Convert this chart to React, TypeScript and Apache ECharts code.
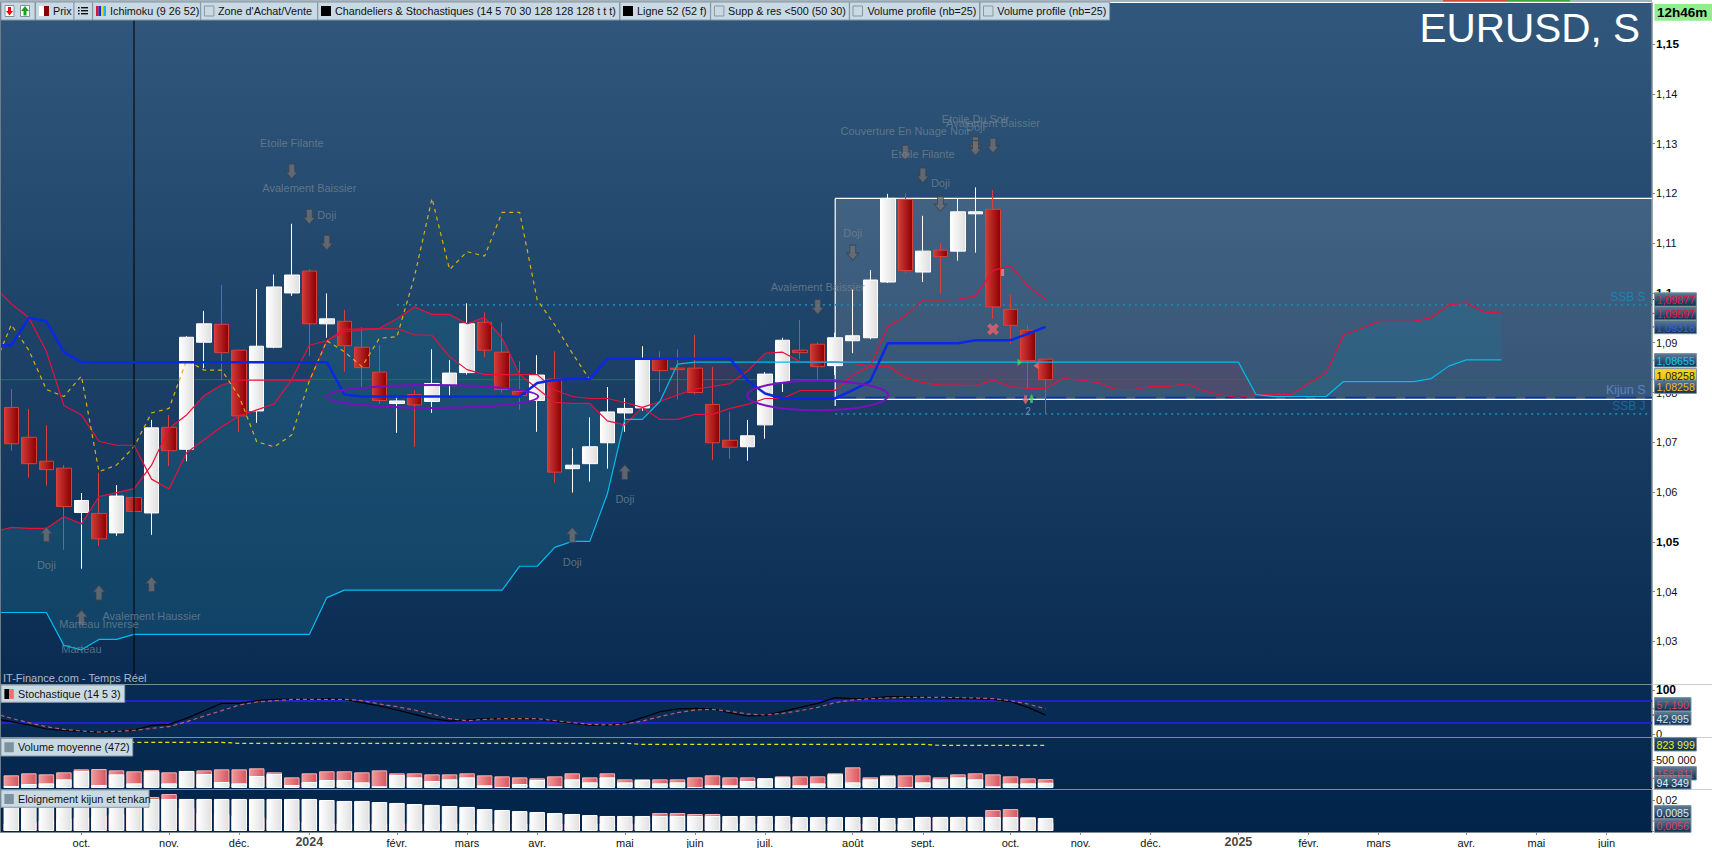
import React, { useEffect, useRef } from "react";
import * as echarts from "echarts";

// Weekly candles: [open, close, low, high]
const candles = [
[1.0770,1.0697,1.0683,1.0807],[1.0710,1.0657,1.0629,1.0767],[1.0662,1.0645,1.0613,1.0734],[1.0648,1.0571,1.0484,1.0654],
[1.0559,1.0583,1.0446,1.0598],[1.0557,1.0506,1.0492,1.0639],[1.0518,1.0592,1.0512,1.0614],[1.0589,1.0561,1.0561,1.0589],
[1.0558,1.0729,1.0514,1.0745],[1.0730,1.0683,1.0652,1.0755],[1.0686,1.0911,1.0662,1.0913],[1.0901,1.0938,1.0849,1.0964],
[1.0937,1.0880,1.0825,1.1016],[1.0885,1.0753,1.0721,1.0886],[1.0763,1.0893,1.0739,1.1008],[1.0891,1.1012,1.0889,1.1037],
[1.1000,1.1036,1.0994,1.1139],[1.1044,1.0938,1.0873,1.1048],[1.0938,1.0948,1.0910,1.0999],[1.0943,1.0894,1.0842,1.0966],
[1.0891,1.0850,1.0811,1.0931],[1.0841,1.0784,1.0777,1.0895],[1.0778,1.0783,1.0719,1.0790],[1.0796,1.0775,1.0691,1.0805],
[1.0782,1.0818,1.0759,1.0887],[1.0814,1.0839,1.0793,1.0865],[1.0840,1.0938,1.0836,1.0979],[1.0941,1.0885,1.0871,1.0961],
[1.0881,1.0806,1.0800,1.0941],[1.0802,1.0794,1.0765,1.0863],[1.0784,1.0835,1.0721,1.0875],[1.0827,1.0640,1.0619,1.0883],
[1.0647,1.0654,1.0599,1.0688],[1.0657,1.0691,1.0621,1.0750],[1.0699,1.0761,1.0647,1.0811],[1.0759,1.0768,1.0721,1.0789],
[1.0769,1.0867,1.0763,1.0893],[1.0867,1.0844,1.0801,1.0883],[1.0849,1.0846,1.0786,1.0887],[1.0849,1.0800,1.0796,1.0916],
[1.0776,1.0699,1.0664,1.0851],[1.0704,1.0690,1.0667,1.0761],[1.0691,1.0713,1.0663,1.0745],[1.0735,1.0837,1.0707,1.0841],
[1.0821,1.0905,1.0801,1.0910],[1.0885,1.0880,1.0867,1.0946],[1.0897,1.0852,1.0825,1.0901],[1.0854,1.0910,1.0835,1.0920],
[1.0904,1.0914,1.0879,1.1007],[1.0910,1.1026,1.0907,1.1046],[1.1022,1.1190,1.1020,1.1199],[1.1188,1.1045,1.1039,1.1200],
[1.1042,1.1084,1.1022,1.1155],[1.1086,1.1073,1.0998,1.1100],[1.1084,1.1163,1.1065,1.1189],[1.1159,1.1163,1.1081,1.1212],
[1.1168,1.0972,1.0948,1.1207],[1.0967,1.0935,1.0898,1.0996],[1.0925,1.0864,1.0808,1.0936],[1.0867,1.08258,1.0757,1.0867],
];

// Ichimoku lines; the first value of each sits one week before the first candle
const tenkan = [1.1013,1.0978,1.0950,1.0883,1.0774,1.0755,1.0702,1.0694,1.0694,1.0626,1.0606,1.0679,1.0705,1.0731,1.0753,1.0765,1.0777,1.0826,1.0895,1.0904,1.0927,1.0928,1.0928,1.0928,1.0916,1.0915,1.0872,1.0846,1.0836,1.0836,1.0836,1.0836,1.0805,1.0792,1.0788,1.0788,1.0780,1.0770,1.0746,1.0746,1.0756,1.0756,1.0768,1.0776,1.0788,1.0788,1.0804,1.0804,1.0804,1.0835,1.0853,1.0932,1.0954,1.0986,1.0986,1.0987,1.0994,1.1045,1.1055,1.1013,1.09877];
const kijun = [1.0895,1.0895,1.0950,1.0943,1.0881,1.0861,1.0861,1.0861,1.0861,1.0861,1.0861,1.0861,1.0861,1.0861,1.0861,1.0861,1.0861,1.0861,1.0861,1.0861,1.0796,1.0792,1.0792,1.0792,1.0792,1.0792,1.0792,1.0792,1.0792,1.0792,1.0792,1.0819,1.0825,1.0827,1.0827,1.0868,1.0868,1.0868,1.0868,1.0868,1.0868,1.0868,1.0868,1.0824,1.0798,1.0788,1.0788,1.0788,1.0788,1.0805,1.0823,1.0899,1.0899,1.0899,1.0899,1.0899,1.0905,1.0905,1.0905,1.0918,1.09318];
const chikou = [1.0852,1.0936,1.0885,1.0806,1.0792,1.0833,1.0641,1.0654,1.0691,1.0759,1.0768,1.0865,1.0845,1.0845,1.0792,1.0701,1.0691,1.0715,1.0823,1.0904,1.0882,1.0852,1.0909,1.0912,1.1033,1.1190,1.1047,1.1083,1.1074,1.1162,1.1162,1.0986,1.0936,1.0879,1.08258];
const ssa = [1.0520,1.0529,1.0527,1.0527,1.0551,1.0536,1.0591,1.0599,1.0607,1.0654,1.0728,1.0755,1.0794,1.0815,1.0825,1.0825,1.0825,1.0825,1.0823,1.0904,1.0922,1.0926,1.0929,1.0948,1.0972,1.0957,1.0957,1.0938,1.0951,1.0909,1.0836,1.0808,1.0780,1.0778,1.0778,1.0743,1.0735,1.0770,1.0782,1.0795,1.0807,1.0812,1.0818,1.0843,1.0879,1.0881,1.0862,1.0861,1.0861,1.0859,1.0853,1.0853,1.0830,1.0820,1.0815,1.0815,1.0814,1.0825,1.0812,1.0808,1.0808,1.0828,1.0825,1.0820,1.0806,1.0806,1.0812,1.0812,1.0818,1.0804,1.0795,1.0790,1.0796,1.0796,1.0796,1.0818,1.0839,1.0916,1.0928,1.0943,1.0943,1.0943,1.0950,1.0976,1.0980,1.0962,1.09597];
const ssb = [1.0358,1.0358,1.0358,1.0358,1.0292,1.0283,1.0304,1.0304,1.0314,1.0314,1.0314,1.0314,1.0314,1.0314,1.0314,1.0314,1.0314,1.0314,1.0314,1.0388,1.0403,1.0403,1.0403,1.0403,1.0403,1.0403,1.0403,1.0403,1.0403,1.0403,1.0451,1.0451,1.0489,1.0501,1.0501,1.0596,1.0746,1.0746,1.0782,1.0857,1.0861,1.0861,1.0861,1.0861,1.0861,1.0861,1.0861,1.0861,1.0861,1.0861,1.0861,1.0861,1.0861,1.0861,1.0861,1.0861,1.0861,1.0861,1.0861,1.0861,1.0861,1.0861,1.0861,1.0861,1.0861,1.0861,1.0861,1.0861,1.0861,1.0861,1.0861,1.0861,1.0796,1.0792,1.0792,1.0792,1.0792,1.0822,1.0822,1.0822,1.0822,1.0822,1.0828,1.0853,1.08655,1.08655,1.08655];

// Levels
const closeLevel = 1.08258;
const ssbSLevel = 1.0976;
const ssbJLevel = 1.0757;
const kijunSLevel = 1.0790;
const zoneTop = 1.1190;
const zoneBottom = 1.0786;
const zoneLeftEnd = 1.0773;
const zoneStart = 47;
const ssbSStart = 22;
const cursorIndex = 7;
// [week, price, half-width in weeks, half-height in price]
const ellipses = [[24.02,1.0792,6.04,0.00231],[46,1.0794,4.02,0.00297]];

// Pattern annotations: [week, price, text]
const patternTexts: [number, number, string][] = [
[16,1.1302,"Etoile Filante"],[17,1.1211,"Avalement Baissier"],[18,1.1157,"Doji"],[55,1.1349,"Etoile Du Soir"],
[56,1.1342,"Avalement Baissier"],[55,1.1334,"Doji"],[51,1.1326,"Couverture En Nuage Noir"],[52,1.1280,"Etoile Filante"],
[53,1.1221,"Doji"],[48,1.1121,"Doji"],[46,1.1011,"Avalement Baissier"],[2,1.0454,"Doji"],[5,1.0334,"Marteau Inverse"],
[4,1.0285,"Marteau"],[8,1.0352,"Avalement Haussier"],[32,1.0460,"Doji"],[35,1.0587,"Doji"],
];
const downArrows = [[16,1.1244],[17,1.1153],[18,1.1101],[55,1.1299],[55,1.1291],[56,1.1296],[51,1.1282],[52,1.1236],[53,1.1179],[48,1.1081],[46,1.0972]];
const upArrows = [[2,1.0515],[5,1.0398],[4,1.0348],[8,1.0415],[32,1.0514],[35,1.0640]];
// Signals near the last candles
const crossSignals = [[56,1.0927]];
const pinkBlock = [[56.55,1.1041]];
const greenRight = [[57.54,1.0861]];
const pinkLeft = [[58.45,1.0854]];
const pinkDown = [[57.86,1.0785]];
const greenUp = [[58.2,1.0788]];
const countLabel = [[58,1.0762,"2"]];

// Stochastic, first value one week before the first candle
const stochK = [35.6,28.0,20.4,11.4,8.3,6.0,4.5,5.3,9.1,19.7,22.0,35.6,53.0,69.7,69.7,75.8,78.8,78.8,78.8,80.3,78.8,71.2,63.6,54.5,44.7,34.8,29.5,31.8,34.8,34.8,34.8,34.1,28.8,24.2,20.4,20.4,24.2,37.1,50.7,56.8,58.3,56.8,48.5,40.9,42.4,50.7,60.6,69.7,82.6,80.3,80.3,84.8,84.8,84.1,82.6,81.0,80.3,78.8,73.5,60.6,42.995];
const stochD = [47.0,35.6,25.7,16.6,10.6,6.8,4.5,6.0,8.3,12.9,16.6,28.0,40.9,53.0,65.9,72.7,75.8,78.8,78.8,78.8,78.8,75.8,68.2,62.1,54.5,45.4,34.8,30.3,33.3,34.8,34.8,34.8,30.3,25.7,22.0,20.4,22.7,29.5,39.4,48.5,54.5,56.0,51.5,45.4,43.2,47.0,53.0,60.6,71.2,77.3,80.3,81.8,83.3,83.3,83.3,82.6,81.8,80.3,75.8,68.2,57.19];
const stochLevels = [75, 25];

// Volume in thousands
const volumeTotal = [226,262,244,280,333,339,315,298,321,280,304,315,333,333,351,280,190,262,298,298,280,315,262,262,244,244,262,226,208,190,173,208,262,190,262,155,155,155,155,190,226,190,190,173,208,208,208,262,369,190,226,226,226,190,244,262,244,208,173,158.811];
const volumePart = [36,71,83,155,304,54,244,83,298,83,304,250,107,83,214,250,54,107,143,143,101,30,232,190,125,155,190,48,18,71,143,30,155,101,190,101,143,83,101,18,48,48,125,173,190,48,83,244,101,155,208,18,101,155,190,155,30,83,83,94.349];
const volumeAverage = [815,815,815,815,815,815,815,815,815,815,815,815,815,798,798,798,798,798,798,798,798,798,798,798,798,798,798,798,798,798,798,798,798,798,798,798,780,780,780,780,780,780,780,780,780,780,780,780,780,780,780,780,780,762,762,762,762,762,762,762];

// Distance kijun / tenkan
const gapWhite = [0.0209,0.0209,0.0209,0.0209,0.0209,0.0209,0.0209,0.0209,0.0209,0.0209,0.0209,0.0209,0.0209,0.0209,0.0209,0.0209,0.0209,0.0209,0.0202,0.0196,0.0196,0.0189,0.0183,0.0176,0.0170,0.0163,0.0157,0.0143,0.0137,0.0130,0.0124,0.0117,0.0111,0.0104,0.0098,0.0098,0.0098,0.0098,0.0098,0.0098,0.0098,0.0098,0.0098,0.0098,0.0098,0.0091,0.0091,0.0091,0.0091,0.0091,0.0085,0.0085,0.0091,0.0091,0.0091,0.0091,0.0091,0.0091,0.0085,0.0085];
const gapPink = [0.0050,0.0060,0.0070,0.0080,0.0090,0.0100,0.0110,0.0150,0.0222,0.0241,0.0150,0.0120,0.0110,0.0100,0.0090,0.0080,0.0070,0.0060,0.0050,0.0050,0.0050,0.0050,0.0050,0.0050,0.0050,0.0050,0.0050,0.0050,0.0050,0.0050,0.0050,0.0050,0.0050,0.0050,0.0050,0.0050,0.0050,0.0117,0.0117,0.0111,0.0111,0.0050,0.0050,0.0050,0.0050,0.0050,0.0050,0.0050,0.0050,0.0050,0.0050,0.0050,0.0092,0.0092,0.0092,0.0092,0.0137,0.0143,0.0091,0.0056];

// X axis labels
const monthIndex = [4,9,13,17,22,26,30,35,39,43,48,52,57,61,65,70,74,78,83,87,91];
const monthNames = ["oct.","nov.","déc.","","févr.","mars","avr.","mai","juin","juil.","août","sept.","oct.","nov.","déc.","","févr.","mars","avr.","mai","juin"];
const yearLabels = [[17,0,"2024"],[70,0,"2025"]];
const priceTicks = [1.03,1.04,1.05,1.06,1.07,1.08,1.09,1.1,1.11,1.12,1.13,1.14,1.15];

const FONT = '"Liberation Sans", Arial, sans-serif';
const XMIN = -0.6446, XMAX = 93.594;
const W = 1652;
const pts = (arr: number[]) => arr.map((v, i) => [i - 1, v]);
const pts0 = (arr: number[]) => arr.map((v, i) => [i, v]);
const lg = (c0: string, c1: string, horizontal = true) =>
  new echarts.graphic.LinearGradient(0, 0, horizontal ? 1 : 0, horizontal ? 0 : 1, [{ offset: 0, color: c0 }, { offset: 1, color: c1 }]);

function buildGraphic() {
  const els: any[] = [];
  const rect = (x: number, y: number, w: number, h: number, fill: any, stroke?: string) =>
    els.push({ type: "rect", z: 100, silent: true, shape: { x, y, width: w, height: h }, style: { fill, stroke, lineWidth: stroke ? 1 : 0 } });
  const text = (x: number, y: number, t: string, fill: string, font: string, align = "left") =>
    els.push({ type: "text", z: 101, silent: true, x, y, style: { text: t, fill, font, textAlign: align, textVerticalAlign: "middle" } });
  const F11 = `10.8px ${FONT}`;

  // gaps between panels and left edge
  rect(0, 787.9, W, 2.2, "#04274e");
  rect(0, 830.9, W, 1.2, "#02244a");
  rect(0, 0, 1, 832, "#6a7c88");

  // top strip and toolbar
  rect(0, 0, 1652, 2, "#a8b4bc");
  rect(1443, 0, 64, 1.5, "#d84a3a");
  rect(1507, 0, 63, 1.5, "#3aa83a");
  const TB = "#c9dae4", TBB = "#8798a4";
  const tabs: [number, number][] = [[1,35],[35.6,74],[74,92.4],[92.7,200.4],[200.7,317.5],[317.8,619.5],[620,710.4],[710.7,849.3],[849.6,979.5],[980,1109.6]];
  tabs.forEach(([a, b]) => rect(a, 2, b - a, 18, TB, TBB));
  // doc icons
  rect(5, 5.5, 9, 11, "#ffffff", "#8090a0");
  els.push({ type: "polygon", z: 101, silent: true, shape: { points: [[6,11],[13,11],[9.5,15.5]] }, style: { fill: "#e01010" } });
  rect(8, 7, 3, 4.5, "#e01010");
  rect(20.5, 5.5, 9, 11, "#ffffff", "#8090a0");
  els.push({ type: "polygon", z: 101, silent: true, shape: { points: [[21,11],[29,11],[25,6]] }, style: { fill: "#18a018" } });
  rect(23.5, 11, 3, 4.5, "#18a018");
  // swatches
  rect(39, 6, 5, 10, "#ffffff"); rect(44, 6, 5, 10, "#8b0000");
  [7, 10, 13].forEach((y) => { rect(78, y, 1.6, 1.6, "#111"); rect(81, y, 7, 1.4, "#111"); });
  rect(96, 6, 2.5, 10, "#e01030"); rect(98.5, 6, 2.5, 10, "#1030e0"); rect(101, 6, 2.5, 10, "#f0d010"); rect(103.5, 6, 2.5, 10, "#10b8f0");
  [204.4, 714.4, 853, 983.5].forEach((x) => rect(x, 6, 9.5, 10, "none", "#8a97a0"));
  rect(321, 6, 10, 10, "#000"); rect(623, 6, 10, 10, "#000");
  text(53, 10.5, "Prix", "#111", F11);
  text(110, 10.5, "Ichimoku (9 26 52)", "#111", F11);
  text(218, 10.5, "Zone d'Achat/Vente", "#111", F11);
  text(335, 10.5, "Chandeliers & Stochastiques (14 5 70 30 128 128 128 t t t)", "#111", F11);
  text(637, 10.5, "Ligne 52 (52 f)", "#111", F11);
  text(728, 10.5, "Supp & res <500 (50 30)", "#111", F11);
  text(867.5, 10.5, "Volume profile (nb=25)", "#111", F11);
  text(997.3, 10.5, "Volume profile (nb=25)", "#111", F11);

  // title
  text(1640, 28, "EURUSD, S", "#ffffff", `40.5px ${FONT}`, "right");
  rect(1654.5, 4, 57.5, 16.7, "#90ee90");
  text(1657, 12, "12h46m", "#000", `bold 13.5px ${FONT}`);

  // right side tags
  text(1645.5, 296.5, "SSB S", "#1f82ae", `12px ${FONT}`, "right");
  text(1645.5, 389.5, "Kijun S", "#5a82c4", `12.5px ${FONT}`, "right");
  text(1645.5, 406, "SSB J", "#1a6a96", `12px ${FONT}`, "right");
  text(3, 678, "IT-Finance.com - Temps Réel", "#aeb8c2", `11px ${FONT}`);

  // panel separators
  [684.5, 737.5, 789.5].forEach((y) => {
    rect(0, y - 0.5, W, 1, "#7c8c96");
    rect(W, y - 0.5, 60, 1, "#c8ced2");
  });

  // panel legends
  const legend = (x2: number, y1: number, y2: number, t: string, swatch: string[]) => {
    rect(1, y1, x2 - 1, y2 - y1, TB, TBB);
    if (swatch.length === 2) { rect(4.4, y1 + 4, 4.7, 10, swatch[0]); rect(9.1, y1 + 4, 4.7, 10, swatch[1]); }
    else rect(4.4, y1 + 4, 9.4, 10, swatch[0]);
    text(18, (y1 + y2) / 2, t, "#111", F11);
  };
  legend(124.7, 685, 702.3, "Stochastique (14 5 3)", ["#000", "#f07070"]);
  legend(132.7, 738.3, 756, "Volume moyenne (472)", ["#7d929f"]);
  legend(149, 790, 807.3, "Eloignement kijun et tenkan", ["#7d929f"]);

  // value tags
  const tag = (x2: number, cy: number, t: string, color: string, bg?: any, tick?: string, tickY?: number) => {
    if (tick) rect(W + 0.5, (tickY ?? cy) - 0.5, 3, 1, tick);
    rect(1654.5, cy - 6.7, x2 - 1654.5, 13.4, bg ?? lg("#5d7d95", "#0c2d52", false), "#7d919e");
    text(1656.5, cy + 0.5, t, color, `10.6px ${FONT}`);
  };
  tag(1696.4, 299.5, "1,09877", "#e8123c", undefined, "#e8123c");
  tag(1696.4, 313.3, "1,09597", "#e8123c", undefined, "#e8123c");
  tag(1696.4, 327, "1,09318", "#3a60e0", undefined, "#2040e0");
  tag(1696.4, 360.3, "1,08655", "#19c3ef", undefined, "#19c3ef");
  tag(1696.4, 375.3, "1,08258", "#222", lg("#f6d820", "#f0c010", false), "#f0c010", 379.3);
  tag(1696.4, 386.7, "1,08258", "#e8c018");
  tag(1691, 704.3, "57,190", "#d04a58", undefined, "#d04a58", 708.8);
  tag(1691, 718.3, "42,995", "#cfe2ee", undefined, "#222", 715);
  tag(1696.4, 744.3, "823 999", "#e8f020", lg("#2e5070", "#0c2d52", false), "#e8f020");
  tag(1696.4, 773.3, "158 811", "#d04a58", undefined, "#d04a58", 778.3);
  tag(1691, 782.3, "94 349", "#dfeaf2");
  tag(1691, 812.3, "0,0085", "#dfeaf2");
  tag(1691, 825.6, "0,0056", "#d04a58", undefined, "#d04a58", 821);
  return els;
}

function buildOption() {
  const grids = [
    { top: 3, height: 681, bg: lg("#31587c", "#092b52", false) },
    { top: 685, height: 52, bg: "#082b53" },
    { top: 738, height: 50, bg: lg("#072a52", "#04274e", false) },
    { top: 790, height: 41, bg: lg("#03264d", "#02244a", false) },
  ];
  const AXC = "#7c8c96";
  const xAxes = grids.map((_, i) => {
    const last = i === 3;
    return {
      type: "value", gridIndex: i, min: XMIN, max: XMAX, splitLine: { show: false },
      offset: last ? 1 : 0,
      axisLine: { show: last, onZero: false, lineStyle: { color: AXC } },
      axisTick: { show: last, length: 3, customValues: monthIndex, lineStyle: { color: AXC } },
      axisLabel: {
        show: last, customValues: monthIndex, margin: 5, color: "#111", fontSize: 11, fontFamily: FONT, hideOverlap: false,
        formatter: (v: number) => monthNames[monthIndex.indexOf(Math.round(v))] ?? "",
      },
    };
  });
  const yBase = { type: "value", position: "right", splitLine: { show: false } };
  const yAxisLine = { show: true, onZero: false, lineStyle: { color: AXC, width: 1.5 } };
  const ytick = { length: 3, lineStyle: { color: AXC } };
  const yAxes = [
    {
      ...yBase, gridIndex: 0, min: 1.02144, max: 1.15825, axisLine: yAxisLine,
      axisTick: { ...ytick, customValues: priceTicks },
      axisLabel: {
        customValues: priceTicks, margin: 4, color: "#111", fontSize: 11, fontFamily: FONT,
        formatter: (v: number) => {
          const s = String(Math.round(v * 100) / 100).replace(".", ",");
          return s === "1,05" || s === "1,1" || s === "1,15" ? `{b|${s}}` : s;
        },
        rich: { b: { fontWeight: "bold", fontSize: 11.8, fontFamily: FONT, color: "#000" } },
      },
    },
    {
      ...yBase, gridIndex: 1, min: -6.8, max: 111.4, axisLine: yAxisLine,
      axisTick: { ...ytick, customValues: [0, 100] },
      axisLabel: {
        customValues: [0, 100], margin: 4, color: "#111", fontSize: 11, fontFamily: FONT,
        formatter: (v: number) => (v === 100 ? "{b|100}" : String(v)),
        rich: { b: { fontWeight: "bold", fontSize: 12, fontFamily: FONT, color: "#000" } },
      },
    },
    {
      ...yBase, gridIndex: 2, min: 0, max: 892.8, axisLine: yAxisLine,
      axisTick: { ...ytick, customValues: [500] },
      axisLabel: { customValues: [500], margin: 4, color: "#111", fontSize: 11, fontFamily: FONT, formatter: () => "500 000" },
    },
    {
      ...yBase, gridIndex: 3, min: 0, max: 0.02674, axisLine: yAxisLine,
      axisTick: { ...ytick, customValues: [0, 0.02] },
      axisLabel: { customValues: [0.02], margin: 4, color: "#111", fontSize: 11, fontFamily: FONT, formatter: () => "0,02" },
    },
  ];

  const line = (name: string, data: number[][], color: string, width: number, z: number, extra: any = {}) => ({
    name, type: "line", xAxisIndex: 0, yAxisIndex: 0, data, z, silent: true, showSymbol: false, symbol: "none", clip: true,
    lineStyle: { color, width, type: "solid", ...extra }, emphasis: { disabled: true },
  });
  const sub = (s: any, i: number) => ({ ...s, xAxisIndex: i, yAxisIndex: i });

  const cloud = {
    type: "custom", xAxisIndex: 0, yAxisIndex: 0, z: 1, clip: true, silent: true,
    data: ssa.map((v, i) => [i - 1, v, ssb[i]]),
    encode: { x: 0, y: [1, 2] },
    renderItem: (params: any, api: any) => {
      if (params.dataIndex !== 0) return { type: "group", children: [] };
      const fillUp = "rgba(30,115,145,0.3)", fillDown = "rgba(150,40,70,0.2)";
      const children: any[] = [];
      let top: number[][] = [[-1, ssa[0]]], bottom: number[][] = [[-1, ssb[0]]];
      let up = ssa[0] >= ssb[0];
      const flush = () => {
        const p = top.concat(bottom.slice().reverse()).map((q) => api.coord(q));
        children.push({ type: "polygon", shape: { points: p }, style: { fill: up ? fillUp : fillDown } });
      };
      for (let i = 0; i < ssa.length - 1; i++) {
        const da = ssa[i] - ssb[i], db = ssa[i + 1] - ssb[i + 1];
        if (da * db < 0) {
          const t = da / (da - db);
          const m = [i - 1 + t, ssa[i] + t * (ssa[i + 1] - ssa[i])];
          top.push(m);
          flush();
          top = [m]; bottom = [m]; up = db > 0;
        } else if (da === 0 && db !== 0 && (db > 0) !== up) {
          const m = [i - 1, ssa[i]];
          flush();
          top = [m]; bottom = [m]; up = db > 0;
        }
        top.push([i, ssa[i + 1]]);
        bottom.push([i, ssb[i + 1]]);
      }
      flush();
      return { type: "group", children };
    },
  };

  const zone = {
    type: "custom", xAxisIndex: 0, yAxisIndex: 0, z: 1, clip: true, silent: true,
    data: [[zoneStart, zoneTop, zoneBottom]], encode: { x: 0, y: [1, 2] },
    renderItem: (_: any, api: any) => {
      const a = api.coord([zoneStart, zoneTop]), b = api.coord([XMAX, zoneBottom]), c = api.coord([zoneStart, zoneLeftEnd]);
      const ls = { stroke: "#ffffff", lineWidth: 1.2 };
      return { type: "group", children: [
        { type: "rect", shape: { x: a[0], y: a[1], width: b[0] - a[0], height: b[1] - a[1] }, style: { fill: "rgba(255,255,255,0.13)" } },
        { type: "line", shape: { x1: a[0], y1: a[1], x2: b[0], y2: a[1] }, style: ls },
        { type: "line", shape: { x1: a[0], y1: b[1], x2: b[0], y2: b[1] }, style: ls },
        { type: "line", shape: { x1: a[0], y1: a[1], x2: a[0], y2: c[1] }, style: ls },
      ] };
    },
  };

  const ellipseSeries = {
    type: "custom", xAxisIndex: 0, yAxisIndex: 0, z: 6, silent: true,
    data: ellipses, encode: { x: 0, y: 1 },
    renderItem: (params: any, api: any) => {
      const e = ellipses[params.dataIndex];
      const c = api.coord([e[0], e[1]]);
      const s = api.size([e[2], e[3]]);
      return { type: "ellipse", shape: { cx: c[0], cy: c[1], rx: s[0], ry: s[1] }, style: { fill: "none", stroke: "#7a10c0", lineWidth: 2 } };
    },
  };

  const candle = {
    type: "candlestick", xAxisIndex: 0, yAxisIndex: 0, z: 3, silent: true, barWidth: 15, clip: true,
    data: candles.map((c, i) => [i, ...c]),
    encode: { x: 0, y: [1, 2, 3, 4] },
    itemStyle: {
      color: lg("#ffffff", "#dedede"), borderColor: "#ffffff",
      color0: lg("#d23a38", "#8c0000"), borderColor0: "#d8403c", borderWidth: 1,
    },
  };

  const arrowStyle = { color: "#6e7175", borderColor: "#3a424c", borderWidth: 1 };
  const scatter = (data: any[], symbol: string, size: any, style: any, z = 7) => ({
    type: "scatter", xAxisIndex: 0, yAxisIndex: 0, data, symbol, symbolSize: size, itemStyle: style, z, silent: true, clip: true,
  });
  const labels = (data: any[], color: string, fontSize: number) => ({
    type: "scatter", xAxisIndex: 0, yAxisIndex: 0, data, symbolSize: 0, z: 7, silent: true,
    label: { show: true, position: "inside", formatter: (p: any) => p.data[2], color, fontSize, fontFamily: FONT },
    labelLayout: { hideOverlap: false },
  });

  const bar = (data: number[], style: any, i: number, z = 2) => ({
    type: "bar", xAxisIndex: i, yAxisIndex: i, data: pts0(data), barWidth: 15.5, barGap: "-100%", z, silent: true, itemStyle: style,
  });

  const series: any[] = [
    zone,
    cloud,
    line("close", [[XMIN, closeLevel], [XMAX, closeLevel]], "#2f6a60", 1, 2),
    line("SSB S", [[ssbSStart, ssbSLevel], [XMAX, ssbSLevel]], "#1d86b0", 1.6, 2, { type: [2, 4] }),
    line("SSB J", [[zoneStart, ssbJLevel], [XMAX, ssbJLevel]], "#1d86b0", 1.6, 2, { type: [2, 4] }),
    line("Kijun S", [[zoneStart, kijunSLevel], [XMAX, kijunSLevel]], "#0a28d8", 1.6, 2, { type: [21, 9] }),
    candle,
    line("cursor", [[cursorIndex, 1.02144], [cursorIndex, 1.15825]], "#000000", 1, 5),
    line("SSA", pts(ssa), "#e8103c", 1.2, 4),
    line("SSB", pts(ssb), "#00bcf0", 1.2, 4),
    line("Tenkan", pts(tenkan), "#e8103c", 1.2, 4),
    line("Chikou", pts(chikou), "#d8b010", 1.2, 4, { type: [4, 4] }),
    line("Kijun", pts(kijun), "#0a28e8", 2.5, 5),
    ellipseSeries,
    scatter(downArrows, "path://M2.8 0H8.2V7.5H11L5.5 14L0 7.5H2.8Z", [12, 15], arrowStyle),
    scatter(upArrows, "path://M5.5 0L11 6.5H8.2V14H2.8V6.5H0Z", [12, 15], arrowStyle),
    labels(patternTexts, "#70808e", 11),
    scatter(crossSignals, "path://M3 0L6 3L9 0L12 3L9 6L12 9L9 12L6 9L3 12L0 9L3 6L0 3Z", [12, 12], { color: "#ee6068" }),
    scatter(pinkBlock, "rect", [3, 7], { color: "#f08888" }),
    scatter(greenRight, "path://M0 0L6 4L0 8Z", [5, 7], { color: "#3fdc5a" }),
    scatter(pinkLeft, "path://M6 0L0 4L6 8Z", [5, 7], { color: "#f06a70" }),
    scatter(pinkDown, "path://M2 0H5V3H7L3.5 8L0 3H2Z", [7, 9], { color: "#f06a70" }),
    scatter(greenUp, "path://M3.5 0L7 5H5V8H2V5H0Z", [6, 9], { color: "#3fdc5a" }),
    labels(countLabel, "#7aa6c0", 10),
    // stochastic
    sub(line("level70", [[XMIN, stochLevels[0]], [XMAX, stochLevels[0]]], "#2222d0", 2, 2), 1),
    sub(line("level30", [[XMIN, stochLevels[1]], [XMAX, stochLevels[1]]], "#2222d0", 2, 2), 1),
    sub(line("K", pts(stochK), "#000000", 1.2, 3), 1),
    sub(line("D", pts(stochD), "#b8606c", 1.2, 4, { type: [4, 3] }), 1),
    // volume
    bar(volumeTotal, { color: lg("#f39a9c", "#d4565e"), borderColor: "#f7b4b4", borderWidth: 1 }, 2, 2),
    bar(volumePart, { color: lg("#ffffff", "#e0e0e0"), borderColor: "#ffffff", borderWidth: 1 }, 2, 3),
    sub(line("avg", pts0(volumeAverage), "#e7e020", 1.2, 4, { type: [4, 3] }), 2),
    // gap
    bar(gapPink, { color: lg("#f39a9c", "#d4565e"), borderColor: "#f7b4b4", borderWidth: 1 }, 3, 2),
    bar(gapWhite, { color: lg("#ffffff", "#e0e0e0"), borderColor: "#ffffff", borderWidth: 1 }, 3, 3),
    // year labels of the time axis
    {
      type: "scatter", xAxisIndex: 3, yAxisIndex: 3, data: yearLabels, symbolSize: 0, z: 7, silent: true, clip: false,
      label: { show: true, position: "inside", formatter: (p: any) => p.data[2], color: "#111", fontSize: 12.5, fontWeight: "bold", fontFamily: FONT },
      labelLayout: { hideOverlap: false, dy: 10.5 },
    },
  ];

  return {
    animation: false,
    backgroundColor: "#ffffff",
    textStyle: { fontFamily: FONT },
    grid: grids.map((g) => ({
      left: 0, width: W, top: g.top, height: g.height, show: true, backgroundColor: g.bg, borderWidth: 0, containLabel: false, outerBoundsMode: "none",
    })),
    xAxis: xAxes,
    yAxis: yAxes,
    series,
    graphic: { elements: buildGraphic() },
  };
}

export default function App() {
  const ref = useRef<HTMLDivElement>(null);
  useEffect(() => {
    const chart = echarts.init(ref.current!, null, { renderer: "svg" });
    chart.setOption(buildOption() as any);
    return () => chart.dispose();
  }, []);
  return <div ref={ref} style={{ position: "absolute", left: 0, top: 0, width: 1712, height: 848, background: "#fff" }} />;
}
